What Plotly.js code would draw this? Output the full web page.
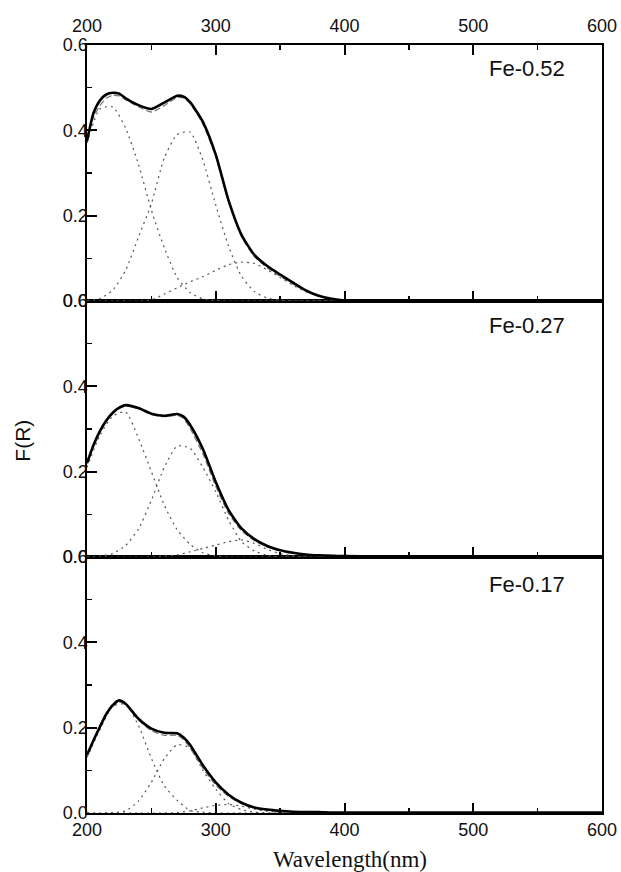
<!DOCTYPE html>
<html><head><meta charset="utf-8">
<script src="https://cdn.plot.ly/plotly-3.0.1.min.js"></script>
<style>html,body{margin:0;padding:0;background:#fff}#chart{width:621px;height:872px}</style>
</head><body><div id="chart"></div>
<script>
// Wavelength grid for measured spectra and fitted sums (nm)
const wavelength = [200,205,210,215,220,225,230,240,250,260,270,275,280,290,300,310,320,330,340,350,360,370,380,390,400,450,500,550,600];
// Wavelength grid for Gaussian components (nm)
const wavelengthComp = [200,210,220,230,240,250,260,270,280,290,300,310,320,330,340,350,360,370,380,390,400];

// Fe-0.52
const fe052Measured = [0.375,0.44,0.47,0.484,0.488,0.486,0.475,0.459,0.450,0.465,0.481,0.479,0.466,0.42,0.343,0.235,0.155,0.108,0.082,0.062,0.043,0.025,0.012,0.005,0.001,0,0,0,0];
const fe052Fit      = [0.38,0.43,0.458,0.475,0.482,0.481,0.472,0.455,0.443,0.458,0.477,0.476,0.463,0.415,0.338,0.232,0.151,0.104,0.078,0.058,0.040,0.023,0.011,0.004,0.001,0,0,0,0];
const fe052Band1 = [0.37,0.45,0.455,0.405,0.32,0.213,0.125,0.055,0.02,0.005,0.001,0,0,0,0,0,0,0,0,0,0];
const fe052Band2 = [0.001,0.006,0.025,0.072,0.15,0.228,0.335,0.39,0.396,0.33,0.225,0.128,0.058,0.022,0.007,0.002,0,0,0,0,0];
const fe052Band3 = [0,0,0,0,0,0.003,0.016,0.031,0.045,0.057,0.072,0.085,0.091,0.088,0.073,0.055,0.037,0.022,0.012,0.005,0.002];

// Fe-0.27
const fe027Measured = [0.22,0.262,0.295,0.32,0.338,0.35,0.356,0.349,0.336,0.331,0.335,0.329,0.31,0.253,0.176,0.11,0.067,0.042,0.026,0.016,0.01,0.006,0.004,0.003,0.002,0.001,0.001,0.001,0.001];
const fe027Fit      = [0.22,0.26,0.293,0.318,0.336,0.348,0.354,0.347,0.334,0.329,0.332,0.325,0.302,0.242,0.166,0.102,0.062,0.039,0.024,0.015,0.009,0.005,0.003,0.002,0.001,0.001,0.001,0.001,0.001];
const fe027Band1 = [0.21,0.285,0.33,0.34,0.278,0.2,0.122,0.064,0.03,0.01,0.003,0,0,0,0,0,0,0,0,0,0];
const fe027Band2 = [0,0.002,0.008,0.027,0.066,0.133,0.21,0.26,0.255,0.21,0.153,0.086,0.036,0.014,0.004,0,0,0,0,0,0];
const fe027Band3 = [0,0,0,0,0,0,0.002,0.005,0.012,0.02,0.028,0.036,0.04,0.032,0.018,0.008,0.003,0,0,0,0];

// Fe-0.17
const fe017Measured = [0.136,0.17,0.202,0.232,0.253,0.264,0.256,0.221,0.198,0.188,0.187,0.177,0.16,0.112,0.072,0.043,0.024,0.013,0.008,0.005,0.003,0.002,0.002,0.001,0.001,0.001,0.001,0.001,0.001];
const fe017Fit      = [0.136,0.17,0.2,0.23,0.25,0.26,0.253,0.218,0.193,0.182,0.182,0.172,0.153,0.105,0.066,0.039,0.022,0.012,0.007,0.004,0.003,0.002,0.001,0.001,0.001,0.001,0.001,0.001,0.001];
const fe017Band1 = [0.13,0.195,0.25,0.255,0.205,0.128,0.064,0.03,0.006,0.002,0,0,0,0,0,0,0,0,0,0,0];
const fe017Band2 = [0,0,0.001,0.005,0.028,0.072,0.127,0.16,0.152,0.1,0.056,0.022,0.008,0.002,0,0,0,0,0,0,0];
const fe017Band3 = [0,0,0,0,0,0,0,0.001,0.005,0.012,0.018,0.02,0.016,0.009,0.004,0.001,0,0,0,0,0];

const sampleLabels = ['Fe-0.52','Fe-0.27','Fe-0.17'];

const solidStyle = {color:'#000', width:2.6, shape:'spline', smoothing:0.6};
const fitStyle = {color:'#777', width:1.3, dash:'6px,3px', shape:'spline', smoothing:0.6};
const bandStyle = {color:'#555', width:1.2, dash:'2px,4px', shape:'spline', smoothing:0.6};

const panels = [
  {xa:'x3', ya:'y',  m:fe052Measured, f:fe052Fit, b:[fe052Band1,fe052Band2,fe052Band3]},
  {xa:'x2', ya:'y2', m:fe027Measured, f:fe027Fit, b:[fe027Band1,fe027Band2,fe027Band3]},
  {xa:'x',  ya:'y3', m:fe017Measured, f:fe017Fit, b:[fe017Band1,fe017Band2,fe017Band3]}
];
const traces = [];
panels.forEach(p => {
  p.b.forEach(band => traces.push({x:wavelengthComp, y:band, xaxis:p.xa, yaxis:p.ya, mode:'lines', line:bandStyle, hoverinfo:'skip'}));
  traces.push({x:wavelength, y:p.f, xaxis:p.xa, yaxis:p.ya, mode:'lines', line:fitStyle});
  traces.push({x:wavelength, y:p.m, xaxis:p.xa, yaxis:p.ya, mode:'lines', line:solidStyle});
});

const tickFont = {family:'Liberation Sans, Arial, sans-serif', size:18, color:'#111'};
function xAx(extra){
  return Object.assign({range:[200,600], tickmode:'linear', tick0:200, dtick:100, ticks:'inside', ticklen:10, tickwidth:2, tickcolor:'#000',
    minor:{tickmode:'linear', tick0:200, dtick:50, ticks:'inside', ticklen:5, tickwidth:1.5, tickcolor:'#000'},
    showline:true, linewidth:1.6, linecolor:'#000', mirror:true, showgrid:false, zeroline:false,
    tickfont:tickFont}, extra);
}
function yAx(dom, anchor){
  return {domain:dom, anchor:anchor, range:[0,0.6], tickmode:'linear', tick0:0, dtick:0.2, tickformat:'.1f', ticks:'inside', ticklen:10, tickwidth:2, tickcolor:'#000',
    minor:{tickmode:'linear', tick0:0, dtick:0.1, ticks:'inside', ticklen:5, tickwidth:1.5, tickcolor:'#000'},
    showline:true, linewidth:1.6, linecolor:'#000', mirror:true, showgrid:false, zeroline:false,
    tickfont:tickFont, ticklabelstandoff:-6};
}

const labelFont = {family:'Liberation Sans, Arial, sans-serif', size:22, color:'#111'};
const layout = {
  width:621, height:872, margin:{l:87, r:19, t:45, b:59},
  paper_bgcolor:'#fff', plot_bgcolor:'#fff', showlegend:false,
  xaxis: xAx({anchor:'y3'}),
  xaxis2: xAx({anchor:'y2', matches:'x', showticklabels:false}),
  xaxis3: xAx({anchor:'y', matches:'x', side:'top', mirror:'allticks', ticklabelstandoff:4}),
  yaxis: yAx([0.6667,1], 'x3'),
  yaxis2: yAx([0.3333,0.6667], 'x2'),
  yaxis3: yAx([0,0.3333], 'x'),
  annotations: [
    {text:sampleLabels[0], xref:'paper', yref:'paper', x:0.932, y:0.970, xanchor:'right', yanchor:'middle', showarrow:false, font:labelFont},
    {text:sampleLabels[1], xref:'paper', yref:'paper', x:0.932, y:0.635, xanchor:'right', yanchor:'middle', showarrow:false, font:labelFont},
    {text:sampleLabels[2], xref:'paper', yref:'paper', x:0.932, y:0.297, xanchor:'right', yanchor:'middle', showarrow:false, font:labelFont},
    {text:'F(R)', xref:'paper', yref:'paper', x:-0.126, y:0.485, xanchor:'center', yanchor:'middle', textangle:-90, showarrow:false, font:{family:'Liberation Sans, Arial, sans-serif', size:21, color:'#111'}},
    {text:'Wavelength(nm)', xref:'paper', yref:'paper', x:0.51, y:-0.060, xanchor:'center', yanchor:'middle', showarrow:false, font:{family:'Liberation Serif, Times New Roman, serif', size:23, color:'#111'}}
  ]
};
Plotly.newPlot('chart', traces, layout, {staticPlot:true, displayModeBar:false});
</script>
</body></html>
